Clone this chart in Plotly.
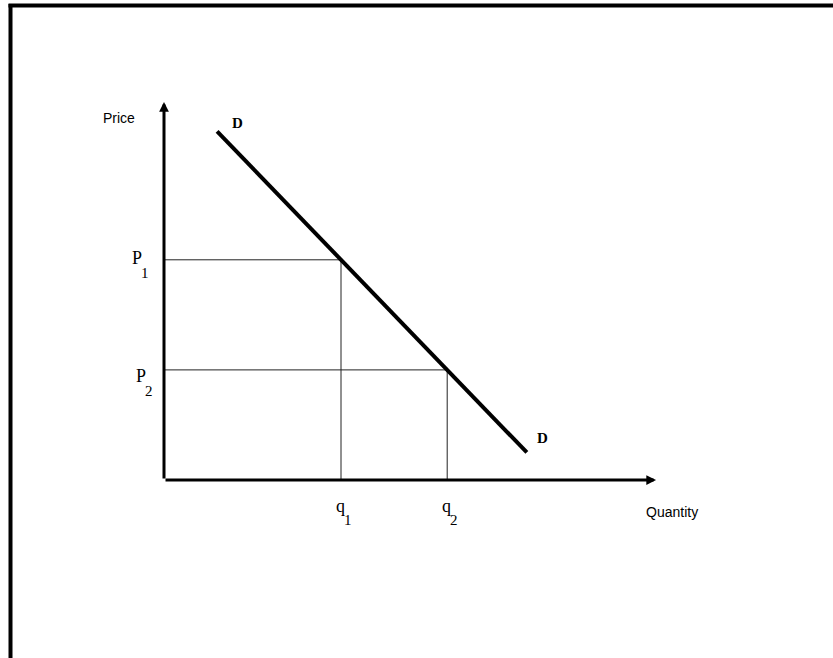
import plotly.graph_objects as go

# Conceptual demand-curve data
demand_q = [1.5, 10.25]
demand_p = [9.5, 0.75]          # P = 11 - Q
q_points = [5, 8]
p_points = [6, 3]
q_subs = ["1", "2"]
p_subs = ["1", "2"]
x_axis_end = 13.9
y_axis_end = 10.3
x_title = "Quantity"
y_title = "Price"
curve_label = "D"

W, H = 833, 658
# pixel scale
ox, oy = 164, 480
ux, uy = 35.4, 36.7
xr = [-ox / ux, (W - ox) / ux]
yr = [-(H - oy) / uy, oy / uy]

fig = go.Figure()

# guide lines from axes to the demand curve
for q, p in zip(q_points, p_points):
    fig.add_trace(go.Scatter(x=[0, q, q], y=[p, p, 0], mode="lines",
                             line=dict(color="#222", width=1), hoverinfo="skip"))

# demand curve
fig.add_trace(go.Scatter(x=demand_q, y=demand_p, mode="lines",
                         line=dict(color="black", width=4), hoverinfo="skip"))

# axes as arrows
fig.add_annotation(x=x_axis_end, y=0, ax=0, ay=0, xref="x", yref="y", axref="x", ayref="y",
                   showarrow=True, arrowhead=2, arrowsize=0.65, arrowwidth=3, arrowcolor="black",
                   text="", standoff=0, startstandoff=0)
fig.add_annotation(x=0, y=y_axis_end, ax=0, ay=0, xref="x", yref="y", axref="x", ayref="y",
                   showarrow=True, arrowhead=2, arrowsize=0.65, arrowwidth=3, arrowcolor="black",
                   text="", standoff=0, startstandoff=0)

serif = "Liberation Serif, Times New Roman, serif"
narrow = "Liberation Sans Narrow, Arial Narrow, Liberation Sans, sans-serif"

# axis titles
fig.add_annotation(x=0, y=y_axis_end, text=y_title, showarrow=False, xref="x", yref="y",
                   xshift=-45, yshift=-16, font=dict(family=narrow, size=14, color="black"))
fig.add_annotation(x=x_axis_end, y=0, text=x_title, showarrow=False, xref="x", yref="y",
                   xshift=16, yshift=-32, font=dict(family=narrow, size=14, color="black"))

# price labels (letter + subscript)
for p, sub, dx, dy in zip(p_points, p_subs, [-27, -23], [2, -6]):
    fig.add_annotation(x=0, y=p, text="P", showarrow=False, xref="x", yref="y",
                       xshift=dx, yshift=dy, font=dict(family=serif, size=18, color="black"))
    fig.add_annotation(x=0, y=p, text=sub, showarrow=False, xref="x", yref="y",
                       xshift=dx + 8, yshift=dy - 15, font=dict(family=serif, size=15, color="black"))
# quantity labels
for q, sub in zip(q_points, q_subs):
    fig.add_annotation(x=q, y=0, text="q", showarrow=False, xref="x", yref="y",
                       xshift=-1, yshift=-26, font=dict(family=serif, size=18, color="black"))
    fig.add_annotation(x=q, y=0, text=sub, showarrow=False, xref="x", yref="y",
                       xshift=7, yshift=-40, font=dict(family=serif, size=15, color="black"))

# curve labels
fig.add_annotation(x=demand_q[0], y=demand_p[0], text="<b>" + curve_label + "</b>", showarrow=False,
                   xshift=20, yshift=8, font=dict(family=serif, size=15, color="black"))
fig.add_annotation(x=demand_q[1], y=demand_p[1], text="<b>" + curve_label + "</b>", showarrow=False,
                   xshift=16, yshift=14, font=dict(family=serif, size=15, color="black"))

# frame (left and top edges)
fig.add_shape(type="line", xref="paper", yref="paper", x0=10.5 / W, x1=10.5 / W, y0=0, y1=1 - 4 / H,
              line=dict(color="black", width=4))
fig.add_shape(type="line", xref="paper", yref="paper", x0=8.5 / W, x1=1, y0=1 - 5.5 / H, y1=1 - 5.5 / H,
              line=dict(color="black", width=4))

fig.update_layout(width=W, height=H, margin=dict(l=0, r=0, t=0, b=0),
                  paper_bgcolor="white", plot_bgcolor="white", showlegend=False)
fig.update_xaxes(range=xr, visible=False, fixedrange=True)
fig.update_yaxes(range=yr, visible=False, fixedrange=True)

fig.write_html("out.html", config={"displayModeBar": False, "staticPlot": True},
               post_script="document.body.style.margin='0';document.body.style.overflow='hidden';")
